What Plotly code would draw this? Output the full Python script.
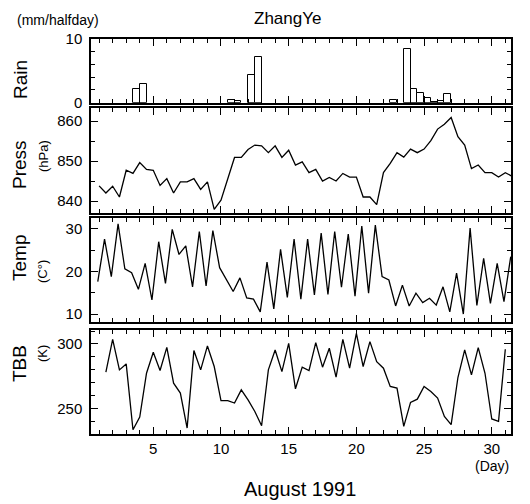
import plotly.graph_objects as go

# ---------------- data ----------------
rain_start = [3.5, 4.0, 10.5, 11.0, 12.0, 12.5, 22.5, 23.5, 24.0, 24.5, 25.0, 25.5, 26.0, 26.5]
rain_mm = [2.1, 3.0, 0.37, 0.2, 4.4, 7.2, 0.4, 8.5, 2.1, 1.6, 0.7, 0.1, 0.3, 1.3]

press_hpa = [843.8, 842.0, 843.7, 841.0, 847.7, 846.9, 849.6, 847.9, 847.7, 843.9,
             845.6, 842.0, 844.8, 844.8, 845.6, 842.9, 844.8, 837.9, 840.2, 845.4,
             850.9, 850.9, 852.9, 854.0, 853.8, 852.1, 853.8, 850.9, 852.7, 849.0,
             849.8, 847.1, 847.9, 845.0, 845.9, 845.0, 846.9, 846.0, 846.0, 841.0,
             841.0, 839.1, 847.1, 849.4, 852.1, 851.0, 853.0, 852.1, 853.0, 855.1,
             858.0, 859.2, 860.9, 856.1, 854.0, 848.1, 849.0, 847.1, 847.1, 846.0,
             847.1, 846.2]

temp_c = [17.6, 27.6, 18.8, 31.2, 20.6, 19.7, 15.8, 21.9, 13.3, 27.0,
          17.2, 29.9, 24.0, 26.0, 16.4, 29.4, 16.6, 29.6, 20.9, 18.2,
          15.3, 18.5, 13.8, 13.5, 10.5, 22.2, 11.2, 25.2, 13.9, 27.6,
          13.5, 27.6, 14.5, 29.0, 14.6, 29.4, 16.3, 28.8, 14.2, 30.7,
          14.9, 30.9, 18.8, 18.0, 11.9, 16.8, 11.9, 14.9, 12.7, 13.7,
          12.1, 16.4, 10.5, 19.6, 10.0, 30.2, 12.0, 23.1, 12.5, 21.9,
          12.9, 23.5]

tbb_k = [278.2, 303.6, 280.0, 284.6, 233.8, 243.6, 277.4, 293.6, 279.5, 297.4,
         269.7, 262.1, 235.1, 294.9, 280.0, 298.5, 282.6, 256.2, 256.2, 254.4,
         264.6, 256.9, 247.9, 236.9, 280.0, 295.4, 278.7, 300.5, 265.4, 282.1,
         279.5, 301.0, 282.1, 296.7, 274.4, 303.6, 281.3, 308.2, 282.6, 301.8,
         286.4, 281.3, 267.2, 265.9, 236.4, 254.9, 257.4, 267.2, 263.3, 258.2,
         244.1, 237.7, 274.1, 295.4, 276.2, 297.2, 277.4, 242.1, 240.3, 295.9]

half_day = 0.5
press_t = [1.0 + half_day * i for i in range(len(press_hpa))]
temp_t = [0.9 + half_day * i for i in range(len(temp_c))]
tbb_t = [1.5 + half_day * i for i in range(len(tbb_k))]
rain_center = [s + half_day / 2 for s in rain_start]

day_ticks = [5, 10, 15, 20, 25, 30]

# ---------------- figure ----------------
# page body has an 8px margin, so the figure starts at window (8, 8)
OFF = 8
WIN_W, WIN_H = 530, 504
W, H = WIN_W - OFF, WIN_H - OFF
PLOT_L, PLOT_R, PLOT_T, PLOT_B = 91, 511, 39, 434   # window pixel coords of plot area
L, R, T, B = PLOT_L - OFF, WIN_W - PLOT_R, PLOT_T - OFF, WIN_H - PLOT_B
PW, PH = PLOT_R - PLOT_L, PLOT_B - PLOT_T

def py(y):  # window pixel y -> paper fraction
    return (PLOT_B - y) / PH

def px(x):
    return (x - PLOT_L) / PW

def clamp(v):
    return min(1.0, max(0.0, v))

fig = go.Figure()
line = dict(color="black", width=1.3)
fig.add_trace(go.Bar(x=rain_center, y=rain_mm, width=half_day,
                     marker=dict(color="white", line=dict(color="black", width=1)),
                     xaxis="x", yaxis="y", showlegend=False))
fig.add_trace(go.Scatter(x=press_t, y=press_hpa, mode="lines", line=line,
                         xaxis="x2", yaxis="y2", showlegend=False))
fig.add_trace(go.Scatter(x=temp_t, y=temp_c, mode="lines", line=line,
                         xaxis="x3", yaxis="y3", showlegend=False))
fig.add_trace(go.Scatter(x=tbb_t, y=tbb_k, mode="lines", line=line,
                         xaxis="x4", yaxis="y4", showlegend=False))

font = dict(family="Liberation Sans", size=15, color="black")
domains = [
    (py(102.7), py(39)),
    (py(213), py(108.3)),
    (py(321.7), py(218.3)),
    (py(434), py(330)),
]
yranges = [[0, 10], [837.0, 863.2], [8.2, 32.5], [230.5, 310.8]]
ytickvals = [[0, 10], [840, 850, 860], [10, 20, 30], [250, 300]]
yminor = [2, 5, 5, 10]

common = dict(showline=True, linecolor="black", linewidth=1.5, mirror="ticks",
              ticks="inside", ticklen=7, tickwidth=1, tickcolor="black",
              showgrid=False, zeroline=False, tickfont=font)

lay = {}
for i in range(4):
    xs = "xaxis" if i == 0 else f"xaxis{i+1}"
    ys = "yaxis" if i == 0 else f"yaxis{i+1}"
    xa = dict(common, range=[0.4, 31.42], domain=[0, 1], anchor="y" if i == 0 else f"y{i+1}",
              tickvals=day_ticks, showticklabels=(i == 3),
              minor=dict(ticks="inside", dtick=1, tick0=0, ticklen=4, tickcolor="black", showgrid=False))
    if i > 0:
        xa["matches"] = "x"
    ya = dict(common, range=yranges[i], domain=[clamp(domains[i][0]), clamp(domains[i][1])],
              anchor="x" if i == 0 else f"x{i+1}", tickvals=ytickvals[i],
              ticklabelstandoff=4,
              minor=dict(ticks="inside", dtick=yminor[i], tick0=0, ticklen=4, tickcolor="black", showgrid=False))
    lay[xs] = xa
    lay[ys] = ya

ann = []
def text(t, x, y, size, angle=0, xanchor="center"):
    ann.append(dict(text=t, x=px(x), y=py(y), xref="paper", yref="paper",
                    showarrow=False, textangle=angle, xanchor=xanchor, yanchor="middle",
                    font=dict(family="Liberation Sans", size=size, color="black")))

text("ZhangYe", 287, 19, 17)
text("(mm/halfday)", 15, 20, 14, xanchor="left")
text("Rain", 20, 80, 19, angle=-90)
text("Press", 19, 165, 19, angle=-90)
text("(hPa)", 43, 156, 13, angle=-90)
text("Temp", 19, 258, 19, angle=-90)
text("(C°)", 42, 272, 13, angle=-90)
text("TBB", 19, 364, 19, angle=-90)
text("(K)", 42, 354, 13, angle=-90)
text("(Day)", 492, 466, 14)
text("August 1991", 300, 489, 20)

fig.update_layout(width=W, height=H, margin=dict(l=L, r=R, t=T, b=B),
                  paper_bgcolor="white", plot_bgcolor="white",
                  bargap=0, annotations=ann, **lay)

fig.write_html("out.html")
